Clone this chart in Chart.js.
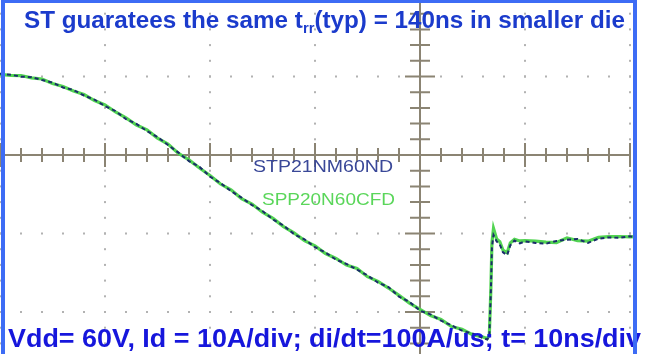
<!DOCTYPE html>
<html>
<head>
<meta charset="utf-8">
<script src="https://cdn.jsdelivr.net/npm/chart.js@4.4.1/dist/chart.umd.min.js"></script>
<style>
    html, body { margin: 0; padding: 0; background: #fff; }
    #wrap { position: relative; width: 649px; height: 354px; overflow: hidden; background: #fff; }
    #plot { position: absolute; left: 0; top: 0; width: 635px; height: 354px; }
    .txt {
        position: absolute;
        white-space: nowrap;
        transform-origin: 0 0;
        font-family: "Liberation Sans", Arial, sans-serif;
    }
    .title { top: 9px; font-size: 23px; line-height: 23px; font-weight: bold; color: #1b3bcc; }
    .title sub { font-size: 14px; line-height: 0; vertical-align: -5px; }
    .foot { top: 325px; font-size: 26px; line-height: 26px; font-weight: bold; color: #1616dc; }
    .lbl { font-size: 17px; line-height: 17px; }
    .stp { top: 157.6px; color: #3a4898; }
    .spp { top: 190.6px; color: #5ad65a; }
    #frame {
        position: absolute; left: 1px; top: 0; width: 636px; height: 400px;
        box-sizing: border-box; border: 4px solid #3d6cf5; border-top-width: 3px;
    }
</style>
</head>
<body>
<div id="wrap">
    <div id="plot"><canvas id="scope"></canvas></div>
    <div class="txt title" id="title">ST guaratees the same t<sub>rr</sub>(typ) = 140ns in smaller die</div>
    <div class="txt lbl stp" id="stpLabel">STP21NM60ND</div>
    <div class="txt lbl spp" id="sppLabel">SPP20N60CFD</div>
    <div class="txt foot" id="foot">Vdd= 60V, Id = 10A/div; di/dt=100A/us; t= 10ns/div</div>
    <div id="frame"></div>
</div>
<script>
// time in ns (10 ns/div), current in A (10 A/div)
const timeNs = [
    -40, -39, -38, -37, -36, -35, -34, -33, -32, -31,
    -30, -29, -28, -27, -26, -25, -24, -23, -22, -21,
    -20, -19, -18, -17, -16, -15, -14, -13, -12, -11,
    -10, -9, -8, -7, -6, -5, -4, -3, -2, -1,
    0, 1, 2, 3, 4, 5, 6, 6.4, 6.6, 6.75,
    6.85, 7.0, 7.3, 7.6, 7.9, 8.3, 8.6, 9.0, 9.5, 10,
    11, 12, 13, 14, 15, 16, 17, 18, 19, 20, 20.5
];

const stpCurrent = [
    10.35, 10.22, 9.98, 9.92, 9.55, 9.22, 8.6, 8.28, 7.58, 7.05,
    6.22, 5.6, 4.58, 3.95, 3.05, 2.3, 1.28, 0.3, -0.78, -1.52,
    -2.75, -3.58, -4.6, -5.42, -6.38, -7.14, -8.22, -8.98, -10.08, -10.76,
    -11.74, -12.42, -13.33, -13.88, -14.6, -15.34, -16.26, -16.82, -18.04, -18.72,
    -19.84, -20.3, -21.1, -21.7, -22.38, -22.74, -23.32, -23.5, -23.1, -17.3,
    -11.8, -10.2, -11.0, -11.4, -12.4, -12.75, -11.5, -10.9, -11.25, -11.0,
    -11.2, -11.3, -10.95, -10.8, -10.7, -11.2, -10.65, -10.5, -10.55, -10.35, -10.5
];

const sppCurrent = [
    10.28, 10.15, 10.12, 9.82, 9.68, 9.12, 8.72, 8.16, 7.7, 6.94,
    6.38, 5.48, 4.72, 3.82, 3.2, 2.16, 1.4, 0.2, -0.62, -1.66,
    -2.6, -3.7, -4.44, -5.55, -6.24, -7.28, -8.08, -9.12, -9.92, -10.9,
    -11.58, -12.55, -13.18, -14.02, -14.45, -15.5, -16.1, -16.95, -17.88, -18.86,
    -19.66, -20.46, -20.94, -21.86, -22.2, -22.88, -23.18, -23.38, -23.0, -17.1,
    -11.2, -9.35, -10.7, -11.05, -12.1, -12.45, -11.2, -10.75, -10.95, -10.9,
    -10.98, -11.1, -11.15, -10.55, -10.9, -10.98, -10.5, -10.4, -10.38, -10.42, -10.4
];

const seriesNames = ['STP21NM60ND', 'SPP20N60CFD'];

const COLORS = {
    navy: '#1b2c6b',
    green: '#52d452',
    dots: '#b2b2b2',
    axis: '#8b8473',
};

// screen window of the scope picture
const T_MIN = -40, T_MAX = -40 + 635 / 10.5;
const I_MAX = 155 / 7.85, I_MIN = -199 / 7.85;

// oscilloscope graticule: dotted divisions plus the centre cross with ticks
const graticule = {
    id: 'graticule',
    beforeDatasetsDraw(chart) {
        const { ctx, chartArea: a, scales: { x, y } } = chart;
        ctx.save();

        ctx.fillStyle = COLORS.dots;
        for (let t = -40; t <= 20; t += 10) {
            if (t === 0) continue;
            const px = x.getPixelForValue(t);
            for (let i = -24; i <= 18; i += 2) {
                ctx.fillRect(px - 1, y.getPixelForValue(i) - 1, 2, 2);
            }
        }
        for (let i = -20; i <= 10; i += 10) {
            if (i === 0) continue;
            const py = y.getPixelForValue(i);
            for (let t = -40; t <= 20; t += 2) {
                ctx.fillRect(x.getPixelForValue(t) - 1, py - 1, 2, 2);
            }
        }

        const cx = x.getPixelForValue(0);
        const cy = y.getPixelForValue(0);
        ctx.strokeStyle = COLORS.axis;
        ctx.lineWidth = 2;
        ctx.beginPath();
        ctx.moveTo(cx, a.top);
        ctx.lineTo(cx, a.bottom);
        ctx.moveTo(a.left, cy);
        ctx.lineTo(x.getPixelForValue(20) + 1, cy);
        for (let t = -40; t <= 20; t += 2) {
            const px = x.getPixelForValue(t);
            const h = t % 10 === 0 ? 12 : 7;
            ctx.moveTo(px, cy - h);
            ctx.lineTo(px, cy + h);
        }
        for (let i = -24; i <= 18; i += 2) {
            const py = y.getPixelForValue(i);
            const w = i % 10 === 0 ? 15 : 10;
            ctx.moveTo(cx - w, py);
            ctx.lineTo(cx + w, py);
        }
        ctx.stroke();
        ctx.restore();
    }
};

function toPoints(values) {
    return timeNs.map((t, i) => ({ x: t, y: values[i] }));
}

// first dataset is painted last, so the dashed navy trace sits over the green one
new Chart(document.getElementById('scope'), {
    type: 'scatter',
    data: {
        datasets: [{
            label: seriesNames[0],
            data: toPoints(stpCurrent),
            showLine: true,
            borderColor: COLORS.navy,
            borderWidth: 2,
            borderDash: [4, 3],
            pointRadius: 0,
            tension: 0
        }, {
            label: seriesNames[1],
            data: toPoints(sppCurrent),
            showLine: true,
            borderColor: COLORS.green,
            borderWidth: 3.2,
            pointRadius: 0,
            tension: 0
        }]
    },
    options: {
        responsive: true,
        maintainAspectRatio: false,
        animation: false,
        layout: { padding: 0 },
        plugins: {
            legend: { display: false },
            tooltip: { enabled: false }
        },
        scales: {
            x: { type: 'linear', min: T_MIN, max: T_MAX, display: false },
            y: { type: 'linear', min: I_MIN, max: I_MAX, display: false }
        }
    },
    plugins: [graticule]
});

// stretch each text line to the width it has in the picture
function fitText(id, left, width) {
    const el = document.getElementById(id);
    el.style.left = left + 'px';
    const w = el.getBoundingClientRect().width;
    el.style.transform = `scaleX(${width / w})`;
}

fitText('title', 24, 601);
fitText('foot', 8, 633);
fitText('stpLabel', 253, 140);
fitText('sppLabel', 262, 133);
</script>
</body>
</html>
